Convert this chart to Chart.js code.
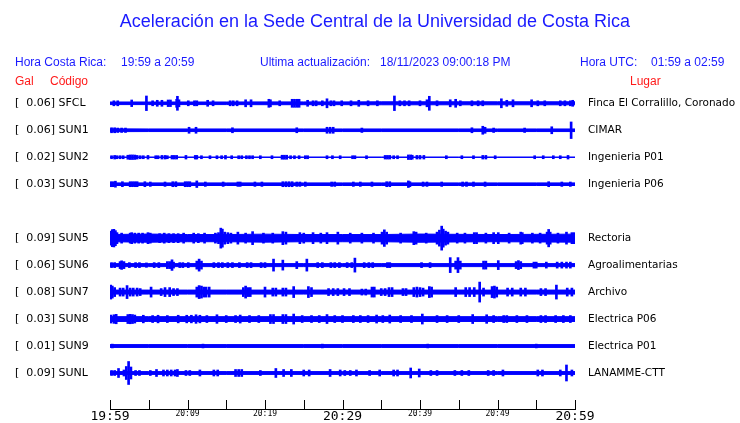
<!DOCTYPE html>
<html>
<head>
<meta charset="utf-8">
<script src="https://cdn.jsdelivr.net/npm/chart.js@4.4.0/dist/chart.umd.min.js"></script>
<style>
body { margin: 0; background: #fff; }
#wrap { position: relative; width: 740px; height: 423px; }
#wrap canvas { position: absolute; left: 0; top: 0; }
.t { position: absolute; font-family: 'Liberation Sans', Arial, sans-serif; font-size: 12px; line-height: 12px; white-space: pre; color: #1a1aff; }
.red { color: #ff1a1a; }
#title { left: 0; width: 750px; text-align: center; top: 12px; font-size: 18px; line-height: 18px; }
</style>
</head>
<body>
<div id="wrap">
  <canvas id="sismo" width="740" height="423"></canvas>
  <div class="t" id="title">Aceleración en la Sede Central de la Universidad de Costa Rica</div>
  <div class="t" style="left:15px; top:56px;">Hora Costa Rica:</div>
  <div class="t" style="left:121px; top:56px;">19:59 a 20:59</div>
  <div class="t" style="left:260px; top:56px;">Ultima actualización:</div>
  <div class="t" style="left:380px; top:56px;">18/11/2023 09:00:18 PM</div>
  <div class="t" style="left:580px; top:56px;">Hora UTC:</div>
  <div class="t" style="left:651px; top:56px;">01:59 a 02:59</div>
  <div class="t red" style="left:15px; top:75px;">Gal</div>
  <div class="t red" style="left:50px; top:75px;">Código</div>
  <div class="t red" style="left:630px; top:75px;">Lugar</div>
</div>
<script>
// estaciones
const codes = ['SFCL', 'SUN1', 'SUN2', 'SUN3', 'SUN5', 'SUN6', 'SUN7', 'SUN8', 'SUN9', 'SUNL'];
const gal = [0.06, 0.06, 0.02, 0.03, 0.09, 0.06, 0.08, 0.03, 0.01, 0.09];
const places = ['Finca El Corralillo, Coronado', 'CIMAR', 'Ingenieria P01', 'Ingenieria P06', 'Rectoria',
                'Agroalimentarias', 'Archivo', 'Electrica P06', 'Electrica P01', 'LANAMME-CTT'];
const rows = [0, 1, 2, 3, 5, 6, 7, 8, 9, 10];

// eje de tiempo (minutos desde 19:59)
const timeLabels = ['19:59', '20:09', '20:19', '20:29', '20:39', '20:49', '20:59'];
const bandTimes = [0, 5, 10, 15, 20, 25, 30, 35, 40, 45, 50, 55, 60];

// amplitud de fondo (cada 5 min) y picos [minuto, amplitud]
const bandSFCL = [1.3, 1.3, 1.3, 1.3, 1.4, 1.4, 1.4, 1.5, 1.5, 1.5, 1.5, 1.5, 1.5];
const spikesSFCL = [[0.5,2.5],[1.0,2.5],[2.8,3.3],[4.7,7.3],[5.5,2.5],[6.1,3],[6.7,3],[7.5,3.3],[7.8,3.3],[8.6,4],[8.7,7],[8.9,3.5],
  [10.1,2.5],[10.9,2.5],[11.2,2.5],[12.6,3],[13.3,2.5],[15.5,2.5],[15.9,2.5],[16.4,2.5],[17.5,3.5],[18.2,3.5],[20.5,4],[20.7,3.5],
  [21.9,2.5],[23.5,4],[23.8,4],[24.1,4],[24.4,4],[25.5,3],[26.2,2.5],[26.6,2.5],[27.4,2.5],[28.0,4.5],[28.5,2.5],[28.9,2.5],
  [29.9,2.5],[31.1,2.5],[32.1,3],[33.3,2.5],[34.5,2.5],[36.7,7.3],[37.4,2.5],[38.0,2.5],[38.6,2.5],[40.0,2.5],[40.9,3.5],[41.2,7],
  [42.2,2.5],[43.9,3.5],[44.6,4],[45.2,2.5],[46.7,2.5],[47.5,2.5],[48.1,2.5],[50.5,4.5],[51.2,3],[52.0,3.5],[54.4,3.5],[55.2,2.5],
  [56.1,2.5],[58.1,2.5],[58.7,2.5],[59.4,2.5],[59.7,3]];

const bandSUN1 = [1.4, 1.3, 1.3, 1.3, 1.3, 1.3, 1.3, 1.3, 1.3, 1.3, 1.3, 1.3, 1.3];
const spikesSUN1 = [[0.2,2.5],[0.6,2.5],[1.0,2.2],[1.5,2.2],[2.0,2.2],[10.2,3],[11.1,3],[15.8,2.5],[24.1,2.5],[28.0,3],[28.4,3],
  [28.8,3],[32.5,2.2],[46.7,2.5],[48.1,4],[48.4,3],[49.5,2.2],[53.5,2.2],[57.0,3.5],[59.5,8.3]];

const bandSUN2 = [0.2, 0.2, 0.2, 0.2, 0.2, 0.2, 0.2, 0.2, 0.2, 0.2, 0.2, 0.2, 0.2];
const spikesSUN2 = [[0.2,1.5],[0.6,1.8],[0.9,1.5],[1.3,1.5],[1.7,1.5],[2.3,2.0],[2.6,2.3],[2.9,2.3],[3.2,2.2],[3.5,1.8],[3.9,1.5],
  [4.3,1.5],[4.9,1.8],[5.9,1.5],[6.2,1.5],[6.7,1.8],[7.1,1.8],[7.4,1.5],[8.0,1.8],[8.3,1.8],[8.6,1.8],[9.8,1.8],[11.0,1.8],[11.2,1.8],
  [11.8,1.5],[12.9,1.5],[13.8,1.5],[14.4,1.5],[14.9,1.8],[15.7,1.5],[16.6,1.5],[17.0,1.5],[17.6,1.5],[18.0,1.5],[18.4,1.5],[19.4,1.5],
  [20.9,1.5],[22.2,2.0],[22.5,2.0],[22.8,2.0],[23.3,1.5],[23.8,1.5],[24.4,1.5],[25.2,1.5],[25.5,1.5],[28.0,1.5],[28.7,1.5],[29.7,1.5],
  [31.3,1.5],[31.6,1.5],[33.1,1.5],[35.5,1.8],[35.8,1.8],[36.1,1.8],[36.6,1.5],[37.1,1.5],[38.5,2.3],[38.8,2.3],[39.0,2.0],[39.6,1.8],
  [40.0,1.8],[40.5,1.8],[43.4,1.5],[45.4,1.5],[46.9,1.5],[48.1,1.8],[48.5,1.8],[49.7,1.5],[54.8,1.5],[55.9,1.5],[57.2,1.5],[58.1,1.5],
  [59.1,1.8]];

const bandSUN3 = [1.3, 1.3, 1.3, 1.3, 1.3, 1.3, 1.3, 1.3, 1.3, 1.3, 1.3, 1.3, 1.3];
const spikesSUN3 = [[0.1,2.5],[0.4,2.5],[0.7,3],[1.6,2.5],[2.6,2.5],[2.9,2.5],[3.2,2.5],[3.5,2.5],[4.5,2.5],[5.2,2.2],[7.1,2.2],
  [8.1,2.5],[8.5,2.5],[9.7,2.5],[10.0,2.5],[10.3,2.5],[11.2,3.3],[12.3,2.2],[14.6,2.2],[16.5,2.2],[16.8,2.2],[18.7,2.2],[19.6,2.2],
  [22.3,2.5],[22.7,2.5],[23.1,2.5],[23.5,2.5],[24.1,2.2],[24.5,2.2],[25.2,2.2],[28.6,2.2],[29.0,2.2],[31.4,2.2],[32.3,2.2],[33.8,2.2],
  [35.7,2.5],[36.1,2.5],[38.5,3.3],[38.7,2.5],[40.4,2.2],[40.9,2.2],[42.8,2.2],[45.5,2.2],[46.0,2.2],[46.9,2.2],[48.4,2.2],[56.6,2.5],
  [58.3,2.2],[59.4,2.2]];

const bandSUN5 = [3.6, 4.1, 3.6, 3.6, 4.0, 3.6, 3.6, 3.6, 4.1, 3.8, 3.6, 3.8, 4.0];
const spikesSUN5 = [[0.1,7],[0.3,8.5],[0.5,8.8],[0.7,7.5],[0.9,5.5],[1.5,5],[2.6,5],[2.8,5.5],[3.2,5],[3.7,5],[4.2,5],[4.9,5.5],
  [5.2,5],[6.4,4.5],[7.0,5],[7.6,4.5],[8.2,4.5],[8.8,4.5],[9.5,5],[10.8,5],[11.4,4.5],[12.2,5],[13.6,5],[14.0,5.5],[14.3,10],
  [14.5,9],[14.8,6],[15.2,5.5],[15.6,5],[16.5,6],[17.5,5],[18.4,6.5],[19.8,5],[21.0,5],[22.3,6.5],[22.7,6],[24.5,5.5],[25.0,5],
  [26.2,5.5],[27.2,5],[28.0,5.5],[29.4,6],[31.0,5],[32.5,5],[34.0,5],[35.1,6],[35.4,8.3],[35.7,6],[37.5,5],[39.2,6.5],[39.5,6],
  [40.8,5],[42.2,6],[42.5,8],[42.8,12],[43.0,9],[43.3,7],[43.6,6],[44.8,5],[45.8,5],[47.0,5.5],[47.3,5.5],[48.5,5],[49.5,5.5],
  [50.1,5.5],[51.5,5],[53.0,6],[53.2,5.5],[54.5,5],[55.5,5],[56.4,6],[56.6,8.7],[56.8,6],[57.8,5],[58.9,6],[59.6,5.5],[59.9,5.5]];

const bandSUN6 = [1.5, 1.5, 1.5, 1.5, 1.5, 1.5, 1.5, 1.5, 1.5, 1.5, 1.5, 1.5, 1.5];
const spikesSUN6 = [[0.2,2.5],[0.6,2.5],[1.3,3.5],[1.5,4.3],[1.8,3.5],[2.5,2.5],[3.3,2.5],[3.8,2.5],[4.7,2.2],[5.7,2.5],[6.3,2.5],
  [7.4,3.5],[7.7,3.5],[8.0,5.3],[8.2,3],[9.0,2.5],[9.4,2.5],[10.1,2.5],[11.2,4],[11.5,6],[11.8,4],[13.4,2.5],[14.0,2.5],[14.5,2.5],
  [15.2,2.5],[15.8,2.5],[16.7,2.5],[17.7,2.5],[18.2,2.5],[19.5,2.5],[20.0,2.5],[21.1,6],[22.3,5],[24.1,3.5],[25.4,6],[26.8,2.5],
  [27.4,2.5],[28.5,2.5],[29.0,2.5],[29.6,2.5],[30.6,2.5],[31.2,2.5],[31.6,7],[32.8,2.5],[33.4,2.5],[33.9,2.5],[35.8,2.5],[36.1,2.5],
  [40.2,2.5],[41.3,2.5],[43.9,7.5],[44.6,4],[44.9,7.5],[45.2,4],[48.2,4],[48.5,4],[50.1,4.5],[52.4,3.5],[52.7,4.5],[53.0,3.5],
  [54.7,3],[55.0,3],[56.3,3],[57.7,3],[58.3,3],[58.9,3],[59.4,3]];

const bandSUN7 = [2.0, 2.0, 2.0, 2.0, 2.0, 2.0, 2.0, 2.0, 2.0, 2.0, 2.0, 2.0, 2.0];
const spikesSUN7 = [[0.1,7],[0.3,6],[0.6,4.5],[1.3,4],[1.7,4],[2.2,6.5],[2.6,4],[3.0,4],[3.5,4],[3.9,3.5],[5.3,5],[6.6,3.5],
  [7.1,4.5],[7.7,4.5],[8.2,3.5],[8.7,3.5],[11.2,5],[11.5,6.5],[11.8,6],[12.1,5],[12.4,5],[12.8,5],[17.2,4.5],[17.5,6],[17.8,4.5],
  [18.1,4.5],[20.0,5],[21.0,4],[21.4,4],[22.3,4],[22.7,4],[23.7,5.5],[25.6,5.5],[26.0,4.5],[28.2,3.5],[28.8,3.5],[29.4,3.5],
  [30.2,3.5],[30.9,3.5],[32.5,3],[33.0,3],[33.8,5],[34.1,5],[35.0,3.5],[35.5,3.5],[36.0,4.5],[36.4,4.5],[37.8,3.5],[38.2,3.5],
  [39.2,4.5],[39.6,5],[40.0,4.5],[40.4,4],[41.2,5.5],[41.5,5],[44.6,4.5],[45.9,4.5],[46.4,4.5],[47.0,4.5],[47.7,10],[48.2,4],
  [49.3,5.5],[49.6,6],[49.9,5],[51.3,4],[51.9,4],[53.0,4],[53.6,4],[55.6,3.5],[56.2,3.5],[57.6,7],[59.0,4],[59.6,4]];

const bandSUN8 = [2.4, 2.4, 2.4, 2.4, 2.4, 2.4, 2.4, 2.4, 2.4, 2.4, 2.4, 2.4, 2.4];
const spikesSUN8 = [[0.1,4],[0.5,4.3],[0.8,4.7],[2.3,4.5],[2.6,4.7],[2.9,4.5],[3.2,4],[4.3,3.8],[5.5,3.5],[6.2,3.8],[7.4,3.5],
  [8.8,3.8],[9.9,3.8],[10.5,3.8],[11.1,4.3],[11.6,3.8],[12.5,3.5],[13.8,4.3],[15.0,3.5],[16.2,3.5],[16.8,4],[18.0,3.5],[19.2,3.5],
  [20.7,4.5],[21.1,4.5],[22.3,4.5],[22.7,4.5],[23.7,5],[24.8,3.5],[26.0,3.5],[27.0,3.5],[28.0,4.5],[29.0,3.5],[30.0,3.5],[31.4,3.5],
  [32.3,3.5],[33.3,3.5],[34.4,4],[35.2,3.5],[36.1,4],[37.5,3.5],[38.9,3.5],[40.3,5],[42.2,3.5],[43.5,3.5],[45.0,3.5],[46.8,4.5],
  [48.6,4.3],[49.5,3.5],[50.8,3.5],[51.2,3.5],[52.5,3.5],[53.8,3.5],[55.6,3.5],[56.2,3.5],[57.5,3.5],[58.5,3.5],[59.4,3.5]];

const bandSUN9 = [1.4, 1.4, 1.4, 1.4, 1.4, 1.4, 1.4, 1.4, 1.4, 1.4, 1.4, 1.4, 1.4];
const spikesSUN9 = [[0.3,1.9],[12.0,1.9],[27.4,1.9],[41.0,1.9],[55.0,1.9]];

const bandSUNL = [1.4, 1.4, 1.4, 1.4, 1.4, 1.4, 1.4, 1.4, 1.4, 1.4, 1.4, 1.4, 1.4];
const spikesSUNL = [[0.2,2.5],[0.6,2.5],[1.1,4.5],[1.8,3],[2.1,6.5],[2.4,11.5],[2.7,6],[3.3,2.5],[3.8,2.5],[5.2,2.5],[6.0,3.5],
  [6.9,3],[7.4,3],[7.9,3],[8.4,3],[8.7,3.5],[9.8,2.5],[10.3,2.5],[11.6,3],[13.4,3],[13.9,3],[16.2,3.5],[16.6,3.5],[17.0,3.5],
  [19.4,2.5],[21.4,4.5],[22.4,3.5],[23.4,3.5],[25.0,3],[25.7,3],[28.4,3.5],[29.7,3],[30.3,2.5],[31.0,2.5],[31.8,3],[33.5,2.5],
  [34.8,3],[36.6,3],[37.1,3],[38.8,5],[39.9,4],[41.4,2.5],[42.2,2.5],[44.5,2.5],[45.4,2.5],[46.3,2.5],[48.8,2.5],[49.5,2.5],
  [50.7,3],[55.2,3],[55.8,3],[58.1,3],[58.9,8],[59.6,3]];

const bands = [bandSFCL, bandSUN1, bandSUN2, bandSUN3, bandSUN5, bandSUN6, bandSUN7, bandSUN8, bandSUN9, bandSUNL];
const spikes = [spikesSFCL, spikesSUN1, spikesSUN2, spikesSUN3, spikesSUN5, spikesSUN6, spikesSUN7, spikesSUN8, spikesSUN9, spikesSUNL];

const blue = '#0000ff';
const countsPerRow = 26.97;

const datasets = [];
rows.forEach((r, i) => {
    datasets.push({
        type: 'line',
        data: bandTimes.map((t, k) => ({ x: t, y: r - bands[i][k] / countsPerRow })),
        borderColor: blue, borderWidth: 1, pointRadius: 0, tension: 0, fill: false
    });
    datasets.push({
        type: 'line',
        data: bandTimes.map((t, k) => ({ x: t, y: r + bands[i][k] / countsPerRow })),
        borderColor: blue, borderWidth: 1, pointRadius: 0, tension: 0,
        fill: '-1', backgroundColor: blue
    });
    datasets.push({
        type: 'bar',
        data: spikes[i].map(([t, a]) => ({ x: t, y: [r - a / countsPerRow, r + a / countsPerRow] })),
        backgroundColor: blue, borderWidth: 0, barThickness: 2, grouped: false
    });
});

const leftLabels = rows.map((r, i) => '[  ' + gal[i].toFixed(2) + '] ' + codes[i]);

// marcas del eje x hacia adentro
const inwardTicks = {
    id: 'inwardTicks',
    afterDraw(chart) {
        const xs = chart.scales.x, ctx = chart.ctx, yb = chart.chartArea.bottom;
        ctx.save();
        ctx.strokeStyle = '#000';
        ctx.lineWidth = 1;
        xs.ticks.forEach(t => {
            const px = Math.round(xs.getPixelForValue(t.value)) + 0.5;
            ctx.beginPath();
            ctx.moveTo(px, Math.round(yb));
            ctx.lineTo(px, Math.round(yb) - 9);
            ctx.stroke();
        });
        ctx.restore();
    }
};

const yCommon = {
    type: 'linear', reverse: true, min: -0.567, max: 11.335,
    grid: { display: false, drawTicks: false },
    border: { display: false },
    afterBuildTicks: s => { s.ticks = rows.map(v => ({ value: v })); }
};

new Chart(document.getElementById('sismo').getContext('2d'), {
    type: 'bar',
    data: { datasets: datasets },
    options: {
        responsive: false,
        animation: false,
        layout: { padding: { left: 15, right: 0, top: 88, bottom: 0 } },
        plugins: { legend: { display: false }, tooltip: { enabled: false }, title: { display: false } },
        scales: {
            x: {
                type: 'linear', position: 'bottom', min: 0, max: 60, offset: false,
                grid: { display: false, drawTicks: false, offset: false },
                border: { display: true, color: '#000', width: 1 },
                ticks: {
                    stepSize: 5, autoSkip: false, maxRotation: 0, padding: 0, color: '#000',
                    callback: v => (v % 10 === 0 ? timeLabels[v / 10] : ''),
                    font: ctx => ({ family: 'DejaVu Sans Mono', size: (ctx.tick && ctx.tick.value % 30 === 0) ? 13 : 8 })
                },
                afterFit: s => { s.height = 14; }
            },
            y: Object.assign({}, yCommon, {
                position: 'left',
                ticks: {
                    crossAlign: 'far', padding: 0, color: '#000',
                    font: { family: 'DejaVu Sans', size: 11 },
                    callback: v => leftLabels[rows.indexOf(v)]
                },
                afterFit: s => { s.width = 95; s.paddingTop = 0; s.paddingBottom = 0; }
            }),
            y2: Object.assign({}, yCommon, {
                position: 'right',
                ticks: {
                    padding: 13, color: '#000',
                    font: { family: 'DejaVu Sans', size: 10.5 },
                    callback: v => places[rows.indexOf(v)]
                },
                afterFit: s => { s.width = 165; s.paddingTop = 0; s.paddingBottom = 0; }
            })
        }
    },
    plugins: [inwardTicks]
});
</script>
</body>
</html>
